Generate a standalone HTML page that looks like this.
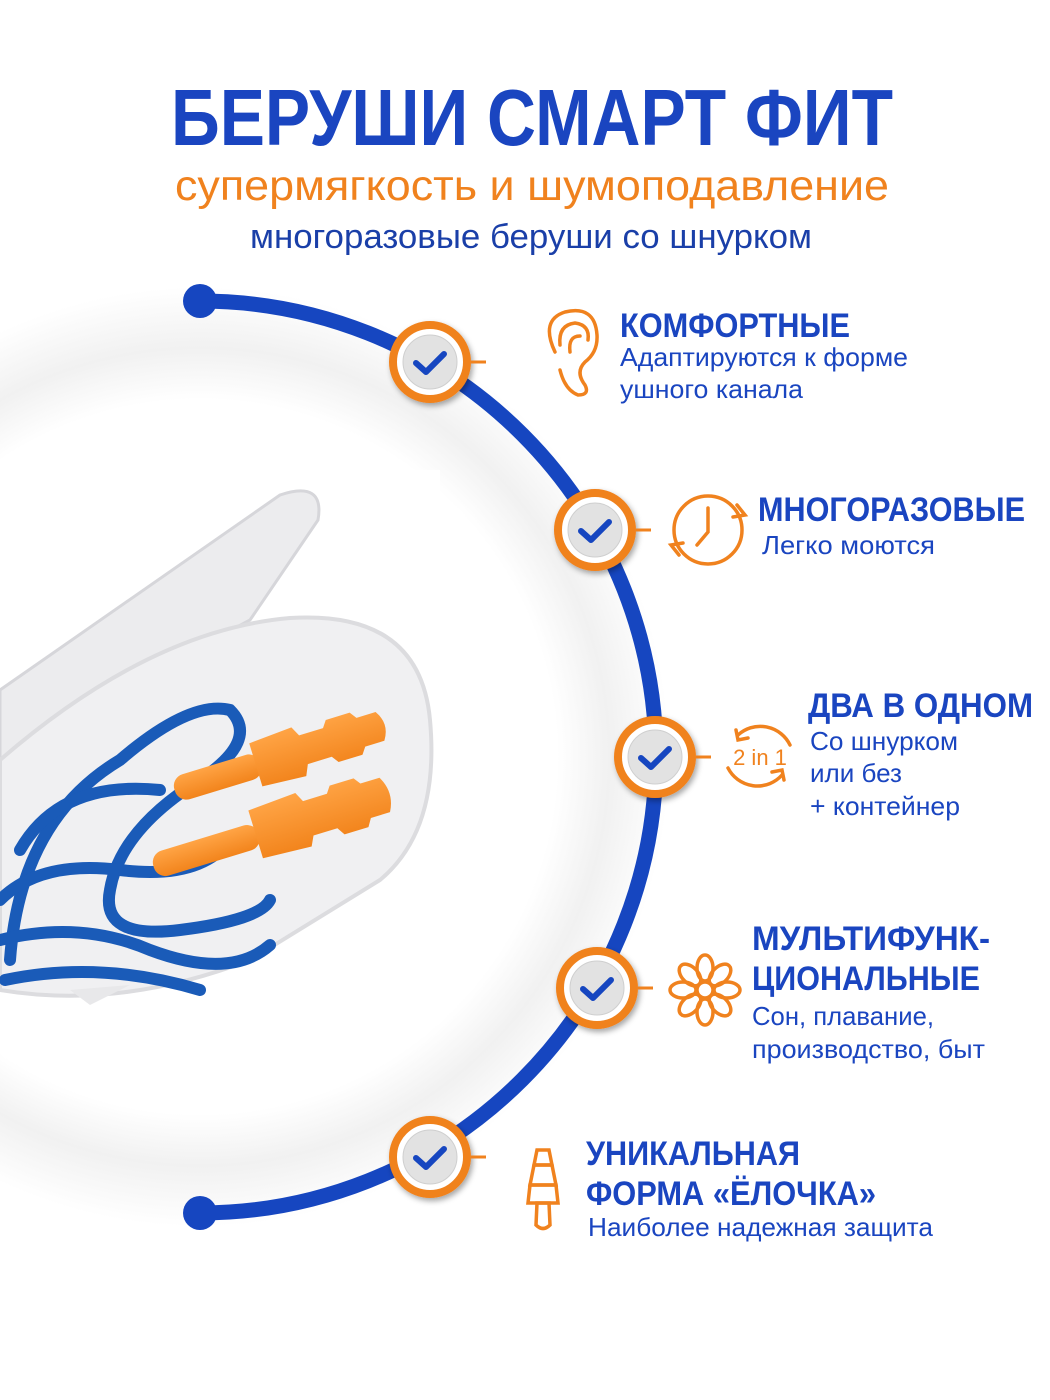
<!DOCTYPE html>
<html><head><meta charset="utf-8"><style>
html,body{margin:0;padding:0;background:#fff;width:1050px;height:1400px;overflow:hidden}
svg{display:block}
text{font-family:"Liberation Sans","DejaVu Sans",sans-serif}
</style></head><body>
<svg width="1050" height="1400" viewBox="0 0 1050 1400" xmlns="http://www.w3.org/2000/svg">
<defs>
<radialGradient id="glow" cx="200" cy="757" r="470" gradientUnits="userSpaceOnUse">
<stop offset="0.76" stop-color="#ffffff"/><stop offset="0.87" stop-color="#f1f1f1"/><stop offset="1" stop-color="#ffffff"/>
</radialGradient>
<linearGradient id="plug" x1="0" y1="0" x2="0" y2="1"><stop offset="0" stop-color="#ffa445"/><stop offset="1" stop-color="#f2841c"/></linearGradient>
<filter id="sh" x="-30%" y="-30%" width="160%" height="160%"><feDropShadow dx="2" dy="3" stdDeviation="3" flood-opacity="0.35"/></filter>
<g id="chk">
<circle r="37" fill="#fff" stroke="#f0821e" stroke-width="8" filter="url(#sh)"/>
<circle r="27" fill="#e2e2e2" stroke="#cfcfcf" stroke-width="1"/>
<path d="M-14 1 L-4 10 L14 -8" fill="none" stroke="#1646c0" stroke-width="6" stroke-linecap="round" stroke-linejoin="round"/>
<line x1="41" y1="0" x2="56" y2="0" stroke="#f0821e" stroke-width="3"/>
</g>
</defs>
<rect width="1050" height="1400" fill="#fff"/>
<circle cx="200" cy="757" r="470" fill="url(#glow)"/>
<rect x="0" y="470" width="440" height="545" fill="#fff"/>
<!-- product photo approximation -->
<path d="M0 690 L280 495 Q325 480 318 520 L250 620 L120 690 L0 760 Z" fill="#ececee" stroke="#d6d6da" stroke-width="3"/>
<path d="M0 760 Q150 630 290 618 Q420 610 430 720 Q440 830 380 880 L250 960 Q120 1010 0 990 Z" fill="#f0f0f2" stroke="#dcdcdf" stroke-width="4"/>
<path d="M70 990 L90 1005 L130 985 Z" fill="#e8e8ea"/>
<g fill="none" stroke="#1a5bb8" stroke-width="12" stroke-linecap="round">
<path d="M10 960 Q20 820 120 760 Q190 700 230 710 Q260 740 200 780 Q120 830 110 890 Q100 940 180 930 Q260 920 270 900"/>
<path d="M0 900 Q40 860 120 870 Q200 880 230 840"/>
<path d="M0 940 Q80 920 150 950 Q230 980 270 945"/>
<path d="M20 850 Q60 780 160 790"/>
<path d="M5 980 Q100 960 200 990"/>
</g>
<g fill="url(#plug)">
<g transform="rotate(-17 270 760)">
<rect x="170" y="748" width="90" height="26" rx="12"/>
<path d="M255 738 L300 735 L305 745 L330 745 L335 738 L360 738 L365 745 L385 745 Q395 760 385 775 L365 775 L360 782 L335 782 L330 775 L305 775 L300 786 L255 783 Z"/>
</g>
<g transform="rotate(-17 270 830)">
<rect x="148" y="818" width="110" height="26" rx="12"/>
<path d="M255 805 L305 802 L310 812 L335 812 L340 805 L365 805 L370 812 L390 812 Q400 830 390 848 L370 848 L365 856 L340 856 L335 848 L310 848 L305 858 L255 855 Z"/>
</g>
</g>
<!-- arc -->
<path d="M200 301 A456 456 0 0 1 200 1213" fill="none" stroke="#1646c0" stroke-width="15"/>
<circle cx="200" cy="301" r="17" fill="#1646c0"/>
<circle cx="200" cy="1213" r="17" fill="#1646c0"/>
<use href="#chk" x="430" y="362"/>
<use href="#chk" x="595" y="530"/>
<use href="#chk" x="655" y="757"/>
<use href="#chk" x="597" y="988"/>
<use href="#chk" x="430" y="1157"/>
<!-- header -->
<text x="532" y="145" text-anchor="middle" font-size="80" font-weight="bold" fill="#1a45c0" textLength="722" lengthAdjust="spacingAndGlyphs">БЕРУШИ СМАРТ ФИТ</text>
<text x="532" y="200" text-anchor="middle" font-size="43" fill="#f0821e" textLength="714" lengthAdjust="spacingAndGlyphs">супермягкость и шумоподавление</text>
<text x="531" y="248" text-anchor="middle" font-size="34" fill="#1a3fa8" textLength="562" lengthAdjust="spacingAndGlyphs">многоразовые беруши со шнурком</text>
<!-- icons -->
<g fill="none" stroke="#f0821e" stroke-width="3.5" stroke-linecap="round">
<path d="M555 352 Q540 320 565 312 Q595 305 597 335 Q598 352 585 362 Q575 372 585 385 Q590 395 578 395 Q565 390 560 370"/>
<path d="M560 345 Q558 325 575 323 Q590 325 588 340"/>
<path d="M570 352 Q568 336 580 336"/>
<circle cx="708" cy="530" r="34"/>
<path d="M708 508 L708 532 L697 545"/>
<path d="M737 505 L745 515 L733 517" />
<path d="M679 555 L671 545 L683 543"/>
<path d="M738 735 A33 33 0 0 1 790 745"/><path d="M782 775 A33 33 0 0 1 728 768"/>
<path d="M736 730 L738 740 L748 738"/><path d="M784 780 L782 770 L772 772"/>
<circle cx="705" cy="990" r="8"/>
<g transform="translate(705 990)">
<ellipse cx="0" cy="-22" rx="8" ry="13"/><ellipse cx="0" cy="22" rx="8" ry="13"/>
<ellipse cx="-22" cy="0" rx="13" ry="8"/><ellipse cx="22" cy="0" rx="13" ry="8"/>
<ellipse cx="-15" cy="-15" rx="8" ry="13" transform="rotate(-45 -15 -15)"/><ellipse cx="15" cy="-15" rx="8" ry="13" transform="rotate(45 15 -15)"/>
<ellipse cx="-15" cy="15" rx="8" ry="13" transform="rotate(45 -15 15)"/><ellipse cx="15" cy="15" rx="8" ry="13" transform="rotate(-45 15 15)"/>
</g>
<path d="M537 1150 L549 1150 L552 1165 L534 1165 Z"/>
<path d="M534 1165 L552 1165 L556 1185 L530 1185 Z"/>
<path d="M530 1185 L556 1185 L558 1203 L528 1203 Z"/>
<path d="M537 1203 L549 1203 L550 1225 Q543 1232 536 1225 Z"/>
</g>
<text x="760" y="765" text-anchor="middle" font-size="22" fill="#f0821e">2 in 1</text>
<!-- features -->
<g fill="#1a45c0">
<text x="620" y="337" font-size="34" font-weight="bold" textLength="230" lengthAdjust="spacingAndGlyphs">КОМФОРТНЫЕ</text>
<text x="620" y="366" font-size="26" textLength="288" lengthAdjust="spacingAndGlyphs">Адаптируются к форме</text>
<text x="620" y="398" font-size="26" textLength="183" lengthAdjust="spacingAndGlyphs">ушного канала</text>
<text x="758" y="521" font-size="34" font-weight="bold" textLength="267" lengthAdjust="spacingAndGlyphs">МНОГОРАЗОВЫЕ</text>
<text x="762" y="554" font-size="26" textLength="173" lengthAdjust="spacingAndGlyphs">Легко моются</text>
<text x="808" y="717" font-size="34" font-weight="bold" textLength="225" lengthAdjust="spacingAndGlyphs">ДВА В ОДНОМ</text>
<text x="810" y="750" font-size="26" textLength="148" lengthAdjust="spacingAndGlyphs">Со шнурком</text>
<text x="810" y="782" font-size="26" textLength="92" lengthAdjust="spacingAndGlyphs">или без</text>
<text x="810" y="815" font-size="26" textLength="150" lengthAdjust="spacingAndGlyphs">+ контейнер</text>
<text x="752" y="950" font-size="34" font-weight="bold" textLength="238" lengthAdjust="spacingAndGlyphs">МУЛЬТИФУНК-</text>
<text x="752" y="990" font-size="34" font-weight="bold" textLength="228" lengthAdjust="spacingAndGlyphs">ЦИОНАЛЬНЫЕ</text>
<text x="752" y="1025" font-size="26" textLength="182" lengthAdjust="spacingAndGlyphs">Сон, плавание,</text>
<text x="752" y="1058" font-size="26" textLength="233" lengthAdjust="spacingAndGlyphs">производство, быт</text>
<text x="586" y="1165" font-size="34" font-weight="bold" textLength="214" lengthAdjust="spacingAndGlyphs">УНИКАЛЬНАЯ</text>
<text x="586" y="1205" font-size="34" font-weight="bold" textLength="290" lengthAdjust="spacingAndGlyphs">ФОРМА «ЁЛОЧКА»</text>
<text x="588" y="1236" font-size="26" textLength="345" lengthAdjust="spacingAndGlyphs">Наиболее надежная защита</text>
</g>
</svg>
</body></html>
